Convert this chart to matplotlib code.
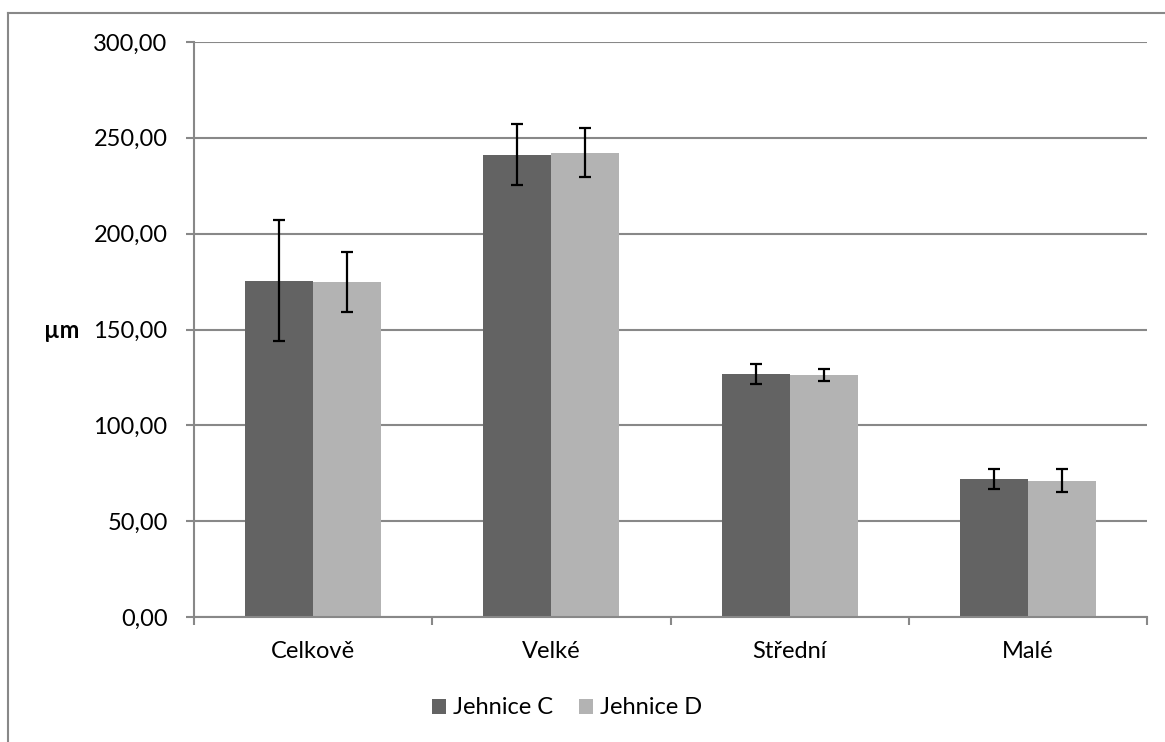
import numpy as np
import matplotlib
matplotlib.use("Agg")
import matplotlib.pyplot as plt
from matplotlib.lines import Line2D

categories = ["Celkově", "Velké", "Střední", "Malé"]
series_names = ["Jehnice C", "Jehnice D"]
jehnice_c = [175.5, 241.3, 127.0, 72.0]
jehnice_c_err = [31.4, 15.8, 5.2, 5.4]
jehnice_d = [174.8, 242.3, 126.2, 71.2]
jehnice_d_err = [15.5, 12.8, 3.0, 5.8]
y_ticks = [0, 50, 100, 150, 200, 250, 300]
y_tick_labels = ["0,00", "50,00", "100,00", "150,00", "200,00", "250,00", "300,00"]

DARK = "#636363"
LIGHT = "#b3b3b3"
GRID = "#888888"

plt.rcParams['font.family'] = ['Lato', 'DejaVu Sans']
FS = 17

fig = plt.figure(figsize=(11.65, 7.42), dpi=100)
ax = fig.add_axes([194 / 1165, 1 - 617 / 742, (1147 - 194) / 1165, (617 - 42) / 742])

x = np.arange(len(categories))
w = 1 / 3.5  # excel gap width 150%

err_kw = dict(ecolor="black", elinewidth=1.6, capsize=4.3, capthick=1.6)
ax.bar(x - w / 2, jehnice_c, w, yerr=jehnice_c_err, color=DARK,
       label=series_names[0], error_kw=err_kw, zorder=2)
ax.bar(x + w / 2, jehnice_d, w, yerr=jehnice_d_err, color=LIGHT,
       label=series_names[1], error_kw=err_kw, zorder=2)

ax.set_xlim(-0.5, len(categories) - 0.5)
ax.set_ylim(0, 300)

ax.set_yticks(y_ticks)
ax.set_yticklabels(y_tick_labels, fontsize=FS)
ax.yaxis.grid(True, color=GRID, linewidth=1.5)
ax.set_axisbelow(True)

# category labels at centers, tick marks at boundaries
ax.set_xticks(x)
ax.set_xticklabels(categories, fontsize=FS)
ax.set_xticks(np.arange(len(categories) + 1) - 0.5, minor=True)
ax.tick_params(axis="x", which="major", length=0, pad=17)
ax.tick_params(axis="x", which="minor", length=6, width=1.5, color=GRID)
ax.tick_params(axis="y", length=6, width=1.5, color=GRID, pad=13)

for s in ["top", "right"]:
    ax.spines[s].set_visible(False)
for s in ["left", "bottom"]:
    ax.spines[s].set_color(GRID)
    ax.spines[s].set_linewidth(1.5)

fig.text(62 / 1165, 1 - 330 / 742, "µm", fontsize=FS, fontweight="bold",
         ha="center", va="center")

leg = fig.legend(loc="center", bbox_to_anchor=(567 / 1165, 1 - 708 / 742),
                 ncol=2, frameon=False, fontsize=FS, handlelength=0.6,
                 handleheight=0.6, handletextpad=0.3, columnspacing=1.1)

# outer chart frame (only top and left visible in the crop)
fig.add_artist(Line2D([8 / 1165, 1.0], [1 - 13 / 742, 1 - 13 / 742],
                      transform=fig.transFigure, color=GRID, linewidth=1.5))
fig.add_artist(Line2D([8 / 1165, 8 / 1165], [0.0, 1 - 13 / 742],
                      transform=fig.transFigure, color=GRID, linewidth=1.5))

fig.savefig("out.png", dpi=100, facecolor="white")
